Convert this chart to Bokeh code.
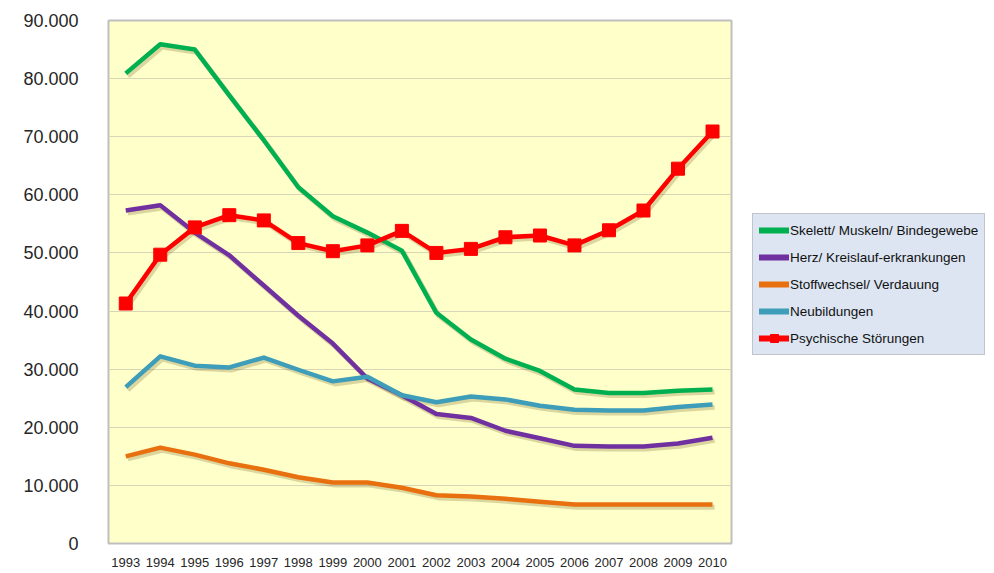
from bokeh.plotting import figure
from bokeh.layouts import row
from bokeh.models import Legend, LegendItem, FixedTicker, Range1d
from bokeh.embed import file_html
from bokeh.resources import INLINE

years = [1993, 1994, 1995, 1996, 1997, 1998, 1999, 2000, 2001, 2002,
         2003, 2004, 2005, 2006, 2007, 2008, 2009, 2010]

skelett = [80900, 85900, 85000, 77100, 69400, 61300, 56300, 53500, 50400, 39700,
           35100, 31800, 29700, 26500, 25900, 25900, 26300, 26500]
herz = [57300, 58200, 53500, 49600, 44400, 39200, 34400, 28400, 25500, 22300,
        21600, 19400, 18100, 16800, 16700, 16700, 17200, 18200]
stoff = [15000, 16500, 15300, 13800, 12700, 11400, 10500, 10500, 9600, 8300,
         8100, 7700, 7200, 6700, 6700, 6700, 6700, 6700]
neu = [26900, 32200, 30600, 30300, 32000, 29900, 27900, 28700, 25500, 24300,
       25300, 24800, 23700, 23000, 22900, 22900, 23500, 23900]
psych = [41300, 49700, 54400, 56500, 55600, 51700, 50300, 51300, 53800, 50000,
         50700, 52700, 53000, 51300, 53900, 57300, 64500, 70900]

names = ["Skelett/ Muskeln/ Bindegewebe", "Herz/ Kreislauf-erkrankungen",
         "Stoffwechsel/ Verdauung", "Neubildungen", "Psychische Störungen"]
colors = ["#00B050", "#7030A0", "#E8700F", "#3E9DB8", "#FF0000"]
y_ticks = [0, 10000, 20000, 30000, 40000, 50000, 60000, 70000, 80000, 90000]
y_labels = ["0", "10.000", "20.000", "30.000", "40.000", "50.000",
            "60.000", "70.000", "80.000", "90.000"]

FONT = "Liberation Sans"

p = figure(width=733, height=573, output_backend="svg", toolbar_location=None,
           x_range=Range1d(1992.5, 2010.55), y_range=Range1d(0, 90000),
           min_border_left=108, min_border_right=2, min_border_top=20,
           min_border_bottom=30)
p.background_fill_color = "#FFFFC9"
p.border_fill_color = "white"
p.outline_line_color = "#BFBFBF"
p.outline_line_width = 2

p.xgrid.grid_line_color = None
p.ygrid.grid_line_color = "#D9D6B8"
p.ygrid.grid_line_width = 1

p.yaxis.ticker = FixedTicker(ticks=y_ticks)
p.yaxis.major_label_overrides = {t: l for t, l in zip(y_ticks, y_labels)}
p.yaxis.axis_line_color = None
p.yaxis.major_tick_line_color = None
p.yaxis.minor_tick_line_color = None
p.yaxis.major_label_text_font = FONT
p.yaxis.major_label_text_font_size = "18px"
p.yaxis.major_label_text_color = "#262626"
p.yaxis.major_label_standoff = 24

p.xaxis.ticker = FixedTicker(ticks=years)
p.xaxis.axis_line_color = None
p.xaxis.major_tick_line_color = None
p.xaxis.minor_tick_line_color = None
p.xaxis.major_label_text_font = FONT
p.xaxis.major_label_text_font_size = "13px"
p.xaxis.major_label_text_color = "#262626"
p.xaxis.major_label_standoff = 8

series = [skelett, herz, stoff, neu, psych]
# soft shadows
for ys in series:
    p.line([x + 0.06 for x in years], [y - 450 for y in ys], line_color="#6B5A20",
           line_alpha=0.25, line_width=5, line_join="round")

for name, ys, c in zip(names, series, colors):
    p.line(years, ys, line_color=c, line_width=4.5, line_join="round")
    if name == "Psychische Störungen":
        p.scatter(years, ys, marker="square", size=13, fill_color=c, line_color=c)

# legend panel (series drawn outside its visible range; only the legend shows)
q = figure(width=261, height=573, output_backend="svg", toolbar_location=None,
           x_range=Range1d(0, 1), y_range=Range1d(0, 1),
           min_border_left=0, min_border_right=0, min_border_top=0, min_border_bottom=0)
q.axis.visible = False
q.grid.grid_line_color = None
q.outline_line_color = None
q.background_fill_color = "white"
q.border_fill_color = "white"

items = []
for name, ys, c in zip(names, series, colors):
    r = q.line(years, ys, line_color=c, line_width=6, line_cap="round")
    rs = [r]
    if name == "Psychische Störungen":
        rs.append(q.scatter(years, ys, marker="square", size=12, fill_color=c, line_color=c))
    items.append(LegendItem(label=name, renderers=rs))

legend = Legend(items=items, location=(19, 188))
legend.background_fill_color = "#DCE5F1"
legend.background_fill_alpha = 1
legend.border_line_color = "#A6A6A6"
legend.border_line_width = 1
legend.label_text_font = FONT
legend.label_text_font_size = "13.5px"
legend.label_text_color = "#111111"
legend.glyph_width = 30
legend.glyph_height = 20
legend.label_standoff = 1
legend.spacing = 7
legend.padding = 6
legend.margin = 0
q.add_layout(legend, "center")

layout = row(p, q)
open("out.html", "w").write(file_html(layout, INLINE))
